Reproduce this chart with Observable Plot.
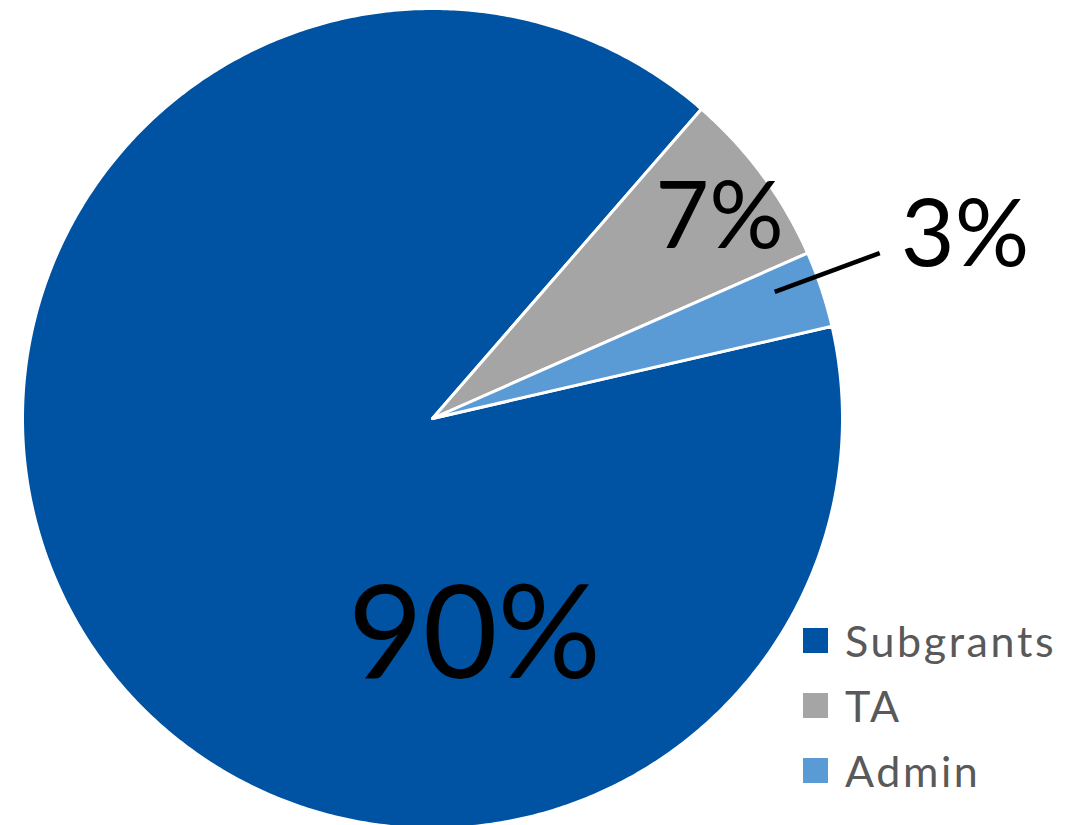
<!DOCTYPE html>
<html>
<head>
<meta charset="utf-8">
<script src="https://cdn.jsdelivr.net/npm/d3@7"></script>
<script src="https://cdn.jsdelivr.net/npm/@observablehq/plot@0.6"></script>
<style>
  html, body { margin: 0; padding: 0; background: #fff; }
  #wrap { position: relative; width: 1077px; height: 825px; overflow: hidden; }
  #legend { position: absolute; left: 803px; top: 608px; font-family: Lato, "Open Sans", sans-serif; font-size: 43px; letter-spacing: 2.6px; color: #595959; }
  .row { display: flex; align-items: center; height: 65px; }
  .sw { width: 25px; height: 25px; margin-right: 17px; }
</style>
</head>
<body>
<div id="wrap"></div>
<script>
// ---- data ----
const categories = ["Subgrants", "TA", "Admin"];
const shares = [90, 7, 3];
const labels = ["90%", "7%", "3%"];
const colors = ["#0053A2", "#A5A5A5", "#5B9BD5"];

// ---- layout config ----
const W = 1077, H = 825;
const cx = 432, cy = 418, R = 410;         // pixels
const startDeg = 77;                        // first slice angle (clockwise from 12 o'clock)
const rad = d => d * Math.PI / 180;

const pie = d3.pie().sort(null).startAngle(rad(startDeg)).endAngle(rad(startDeg) + 2 * Math.PI)(shares);

// polar (angle clockwise from up, radius in units of R) -> data coords
const polar = (a, r) => ({x: r * Math.sin(a), y: r * Math.cos(a)});

const slicePts = [];
pie.forEach((p, i) => {
  slicePts.push({key: categories[i], x: 0, y: 0});
  const n = Math.max(4, Math.ceil((p.endAngle - p.startAngle) / rad(0.5)));
  for (let k = 0; k <= n; k++) {
    const a = p.startAngle + (p.endAngle - p.startAngle) * k / n;
    slicePts.push({key: categories[i], ...polar(a, 1)});
  }
});

const mid = p => (p.startAngle + p.endAngle) / 2;
const bigLabel = [{text: labels[0], ...polar(rad(169.1), 0.5415)}];
const smallLabels = [
  {text: labels[1], ...polar(mid(pie[1]) + rad(1.46), 0.854)},
  {text: labels[2], ...polar(mid(pie[2]) - rad(0.5), 1.373)}
];
const leaderA = mid(pie[2]) - rad(1.9);
const leader = [{x1: polar(leaderA, 0.89).x, y1: polar(leaderA, 0.89).y, x2: polar(leaderA, 1.163).x, y2: polar(leaderA, 1.163).y}];

const chart = Plot.plot({
  width: W, height: H,
  margin: 0,
  x: {domain: [-cx / R, (W - cx) / R], range: [0, W], axis: null},
  y: {domain: [-(H - cy) / R, cy / R], range: [H, 0], axis: null},
  color: {domain: categories, range: colors},
  style: {background: "white"},
  marks: [
    Plot.line(slicePts, {x: "x", y: "y", z: "key", fill: "key", stroke: "white", strokeWidth: 3, strokeLinejoin: "round", curve: "linear-closed"}),
    Plot.link(leader, {x1: "x1", y1: "y1", x2: "x2", y2: "y2", stroke: "black", strokeWidth: 4.5}),
    Plot.text(bigLabel, {x: "x", y: "y", text: "text", fontSize: 129, fontFamily: "Lato", fill: "black", textAnchor: "middle"}),
    Plot.text(smallLabels, {x: "x", y: "y", text: "text", fontSize: 93, fontFamily: "Lato", fill: "black", textAnchor: "middle"})
  ]
});
const wrap = document.getElementById("wrap");
wrap.appendChild(chart);

const legend = document.createElement("div");
legend.id = "legend";
categories.forEach((c, i) => {
  const row = document.createElement("div");
  row.className = "row";
  const sw = document.createElement("div");
  sw.className = "sw";
  sw.style.background = colors[i];
  const t = document.createElement("span");
  t.textContent = c;
  row.appendChild(sw);
  row.appendChild(t);
  legend.appendChild(row);
});
wrap.appendChild(legend);
</script>
</body>
</html>
